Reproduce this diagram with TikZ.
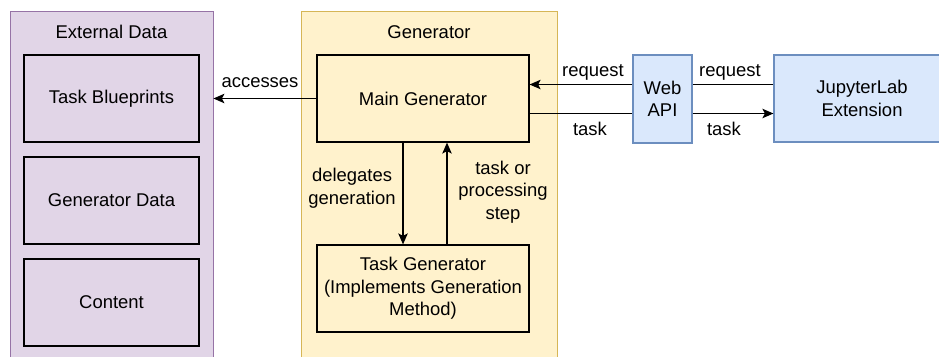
\documentclass[tikz,border=0pt]{standalone}
\usepackage{fontspec}
\setmainfont{Liberation Sans}
\usetikzlibrary{arrows.meta}

\definecolor{purplefill}{HTML}{E1D5E7}
\definecolor{purpleline}{HTML}{9673A6}
\definecolor{yellowfill}{HTML}{FFF2CC}
\definecolor{yellowline}{HTML}{D6B656}
\definecolor{bluefill}{HTML}{DAE8FC}
\definecolor{blueline}{HTML}{6C8EBF}

\tikzset{
	box/.style={draw, line width=0.7pt, align=center, inner sep=0pt},
	datbox/.style={box, fill=purplefill, minimum width=3.5cm, minimum height=1.74cm},
	genbox/.style={box, fill=yellowfill, minimum width=4.24cm, minimum height=1.74cm},
	webbox/.style={box, fill=bluefill, draw=blueline, minimum height=1.76cm},
	lbl/.style={align=center, inner sep=0pt},
	flow/.style={line width=0.7pt, -{Stealth[length=0.22cm,width=0.19cm,inset=0.05cm]}},
	plain/.style={line width=0.7pt}
}

\begin{document}
\begin{tikzpicture}[x=0.02cm, y=-0.02cm, font=\fontsize{10.5}{12.8}\selectfont]
			%%%%% START %%%%%
			\clip (0, 0) rectangle (939, 356);
			
			% containers
			\node[draw=purpleline, fill=purplefill, line width=0.5pt, minimum width=4.06cm, minimum height=7.18cm] (ext) at (111.5, 190.5) {};
			\node[draw=yellowline, fill=yellowfill, line width=0.5pt, minimum width=5.12cm, minimum height=7.18cm] (gen) at (429, 190.5) {};
			\node[lbl] (exttitle) at (111.5, 32) {External Data};
			\node[lbl] (gentitle) at (429, 32) {Generator};
			
			% external data
			\node[datbox] (blue) at (111.5, 98.5) {Task Blueprints};
			\node[datbox] (gdata) at (111.5, 200.5) {Generator Data};
			\node[datbox] (content) at (111.5, 302.5) {Content};
			
			% generator
			\node[genbox] (main) at (423, 98.5) {Main Generator};
			\node[genbox] (taskgen) at (423, 288.5) {Task Generator\\(Implements Generation\\Method)};
			
			% web side
			\node[webbox, minimum width=1.18cm] (api) at (662.5, 99) {Web\\API};
			\node[webbox, minimum width=3.52cm, minimum height=1.74cm] (jup) at (862, 98.5) {JupyterLab\\Extension};
			
			% connectors
			\draw[flow] (main.west) -- (main.west -| ext.east);
			\node[lbl] (acclbl) at (260, 83) {accesses};
			
			\coordinate (down) at ([xshift=-0.4cm]main.south);
			\coordinate (up) at ([xshift=0.48cm]taskgen.north);
			\draw[flow] (down) -- (down |- taskgen.north);
			\draw[flow] (up) -- (up |- main.south);
			\node[lbl] (dellbl) at (352, 188) {delegates\\generation};
			\node[lbl] (steplbl) at (503, 192) {task or\\processing\\step};
			
			\coordinate (reqapi) at ([yshift=0.29cm]api.west);
			\coordinate (taskapi) at ([yshift=-0.29cm]api.east);
			\draw[plain] (jup.west |- api.east) ++(0, -14.5) coordinate (reqjup) -- (reqjup -| api.east);
			\draw[flow] (reqapi) -- (reqapi -| main.east);
			\draw[plain] (taskapi -| main.east) -- (taskapi -| api.west);
			\draw[flow] (taskapi) -- (taskapi -| jup.west);
			\node[lbl] (req1) at (593, 72) {request};
			\node[lbl] (req2) at (730, 72) {request};
			\node[lbl] (task1) at (590, 129) {task};
			\node[lbl] (task2) at (724, 129) {task};
			%%%%% END %%%%%
\end{tikzpicture}
\end{document}
